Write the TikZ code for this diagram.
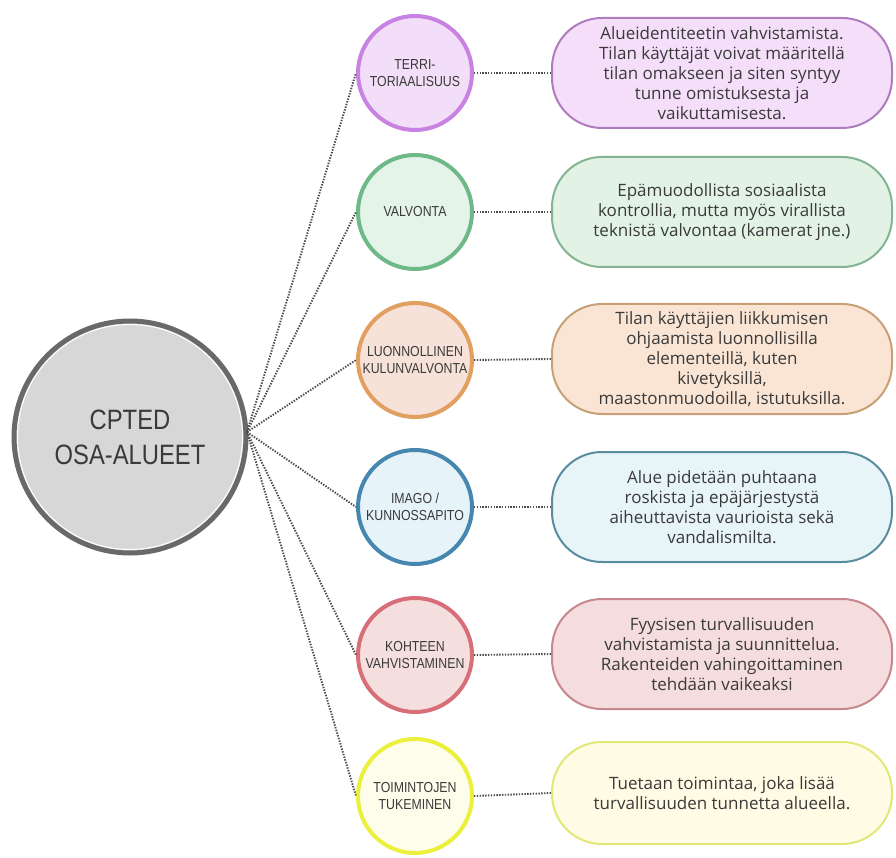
\documentclass[tikz,border=0pt]{standalone}
\usepackage{fontspec}
\setmainfont{Open Sans}
\newfontfamily\condfont[FakeStretch=0.85]{Liberation Sans}
\definecolor{txt}{RGB}{58,58,58}
\definecolor{dotc}{RGB}{75,75,75}
\definecolor{bigfill}{RGB}{215,215,215}
\definecolor{bigdraw}{RGB}{105,105,105}
\definecolor{c1d}{RGB}{200,130,225}\definecolor{c1f}{RGB}{242,222,248}
\definecolor{b1d}{RGB}{175,125,190}\definecolor{b1f}{RGB}{245,222,250}
\definecolor{c2d}{RGB}{110,185,135}\definecolor{c2f}{RGB}{228,244,233}
\definecolor{b2d}{RGB}{130,180,145}\definecolor{b2f}{RGB}{226,243,230}
\definecolor{c3d}{RGB}{225,160,95}\definecolor{c3f}{RGB}{246,226,216}
\definecolor{b3d}{RGB}{200,160,120}\definecolor{b3f}{RGB}{250,228,212}
\definecolor{c4d}{RGB}{70,135,175}\definecolor{c4f}{RGB}{230,243,248}
\definecolor{b4d}{RGB}{90,140,160}\definecolor{b4f}{RGB}{232,245,248}
\definecolor{c5d}{RGB}{215,110,120}\definecolor{c5f}{RGB}{245,222,222}
\definecolor{b5d}{RGB}{200,135,140}\definecolor{b5f}{RGB}{246,221,221}
\definecolor{c6d}{RGB}{235,240,60}\definecolor{c6f}{RGB}{254,252,234}
\definecolor{b6d}{RGB}{225,232,120}\definecolor{b6f}{RGB}{255,251,228}
\tikzset{
  subc/.style={circle, minimum size=114pt, inner sep=0pt, line width=4pt, align=center,
    font=\condfont\fontsize{14.5}{17.5}\selectfont, text=txt},
  desc/.style={rectangle, rounded corners=50pt, minimum width=340pt, minimum height=110pt,
    inner sep=0pt, line width=2pt, align=center, font=\fontsize{17}{20}\selectfont, text=txt},
  link/.style={draw=dotc, line width=1.9pt, dash pattern=on 1.4pt off 1.4pt}
}
\begin{document}
\begin{tikzpicture}[x=1pt,y=-1pt]
\useasboundingbox[fill=white] (0,0) rectangle (896,858);
% central circle
\node[circle, minimum size=232pt, inner sep=0pt, fill=bigfill, draw=bigdraw, line width=5pt,
  align=center, text=txt, font=\condfont\fontsize{28}{35}\selectfont] (c) at (130,437) {CPTED\\OSA-ALUEET};
\draw[white, line width=1pt] (c.center) circle (112.5pt);
\coordinate (hub) at (247,432);
% sub circles
\node[subc, draw=c1d, fill=c1f] (t1) at (415,73) {\fontsize{14.5}{21}\selectfont TERRI-\\TORIAALISUUS};
\node[subc, draw=c2d, fill=c2f] (t2) at (415,212) {VALVONTA};
\node[subc, draw=c3d, fill=c3f] (t3) at (415,360) {LUONNOLLINEN\\KULUNVALVONTA};
\node[subc, draw=c4d, fill=c4f] (t4) at (415,507) {IMAGO /\\KUNNOSSAPITO};
\node[subc, draw=c5d, fill=c5f] (t5) at (415,655) {KOHTEEN\\VAHVISTAMINEN};
\node[subc, draw=c6d, fill=c6f] (t6) at (415,796) {TOIMINTOJEN\\TUKEMINEN};
% description boxes
\node[desc, draw=b1d, fill=b1f] (d1) at (722,73) {Alueidentiteetin vahvistamista.\\Tilan käyttäjät voivat määritellä\\tilan omakseen ja siten syntyy\\tunne omistuksesta ja\\vaikuttamisesta.};
\node[desc, draw=b2d, fill=b2f] (d2) at (722,212) {Epämuodollista sosiaalista\\kontrollia, mutta myös virallista\\teknistä valvontaa (kamerat jne.)};
\node[desc, draw=b3d, fill=b3f] (d3) at (722,359) {Tilan käyttäjien liikkumisen\\ohjaamista luonnollisilla\\elementeillä, kuten\\kivetyksillä,\\maastonmuodoilla, istutuksilla.};
\node[desc, draw=b4d, fill=b4f] (d4) at (722,507) {Alue pidetään puhtaana\\roskista ja epäjärjestystä\\aiheuttavista vaurioista sekä\\vandalismilta.};
\node[desc, draw=b5d, fill=b5f] (d5) at (722,654) {Fyysisen turvallisuuden\\vahvistamista ja suunnittelua.\\Rakenteiden vahingoittaminen\\tehdään vaikeaksi};
\node[desc, draw=b6d, fill=b6f, minimum height=102pt] (d6) at (722,793) {Tuetaan toimintaa, joka lisää\\turvallisuuden tunnetta alueella.};
% connectors
\foreach \i in {1,...,6}{
  \draw[link] (hub) -- (t\i.west);
  \draw[link] (t\i.east) -- (d\i.west);
}
\end{tikzpicture}
\end{document}
